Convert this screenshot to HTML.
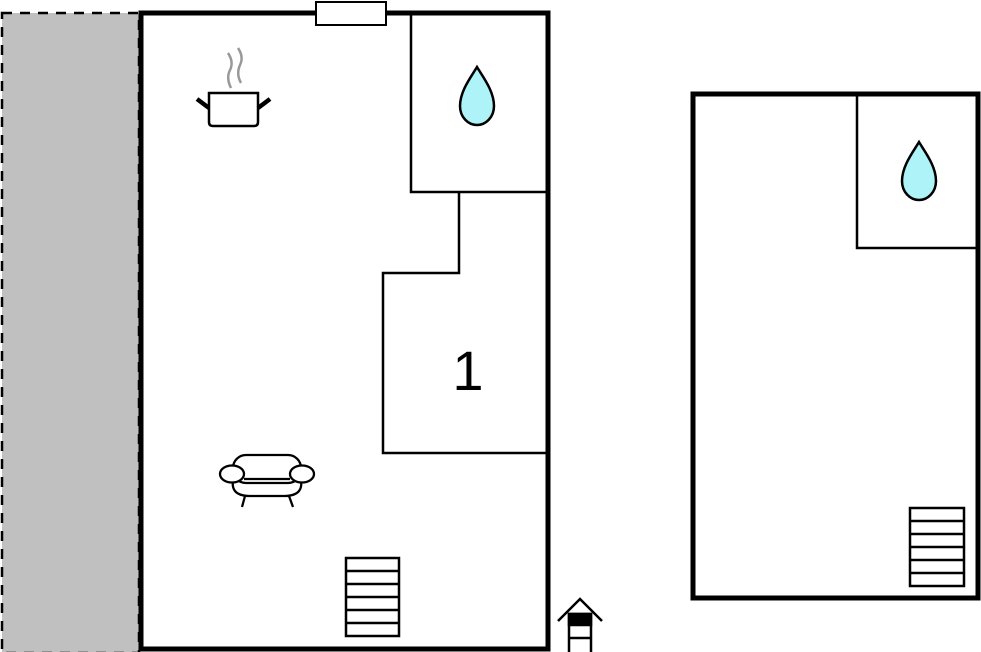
<!DOCTYPE html>
<html><head><meta charset="utf-8"><style>html,body{margin:0;padding:0;background:#fff}svg{display:block}</style></head>
<body>
<svg width="981" height="652" viewBox="0 0 981 652" xmlns="http://www.w3.org/2000/svg">
<defs>
<path id="drop" d="M0,0 C6,10 17,24 17,39 C17,50 9,58 0,58 C-9,58 -17,50 -17,39 C-17,24 -6,10 0,0 Z" fill="#aef3f8" stroke="#000" stroke-width="2.5"/>
</defs>
<rect x="2" y="13" width="137" height="640" fill="#c0c0c0" stroke="#000" stroke-width="2.5" stroke-dasharray="10,8"/>
<rect x="141" y="13" width="407" height="636" fill="#fff" stroke="#000" stroke-width="5"/>
<rect x="316" y="2" width="70" height="23" fill="#fff" stroke="#000" stroke-width="2"/>
<g fill="none" stroke="#000" stroke-width="2.5">
<polyline points="411,13 411,192 546,192"/>
<polyline points="459,192 459,273 383,273 383,453 546,453"/>
</g>
<text x="468" y="390" font-family="Liberation Sans, sans-serif" font-size="56" text-anchor="middle">1</text>
<use href="#drop" x="477" y="67"/>
<!-- pot -->
<g stroke="#000" stroke-width="2.5" fill="#fff">
<path d="M209,93 H258 V122 Q258,126 254,126 H213 Q209,126 209,122 Z"/>
<line x1="197" y1="99" x2="209" y2="108" stroke-width="4.5"/>
<line x1="258" y1="108" x2="270" y2="99" stroke-width="4.5"/>
</g>
<g stroke="#999" stroke-width="2.5" fill="none">
<path d="M228,53 Q234,62 230,70 Q226,78 231,88"/>
<path d="M238,48 Q244,57 240,65 Q236,74 241,83"/>
</g>
<!-- sofa -->
<g stroke="#000" stroke-width="2.3" fill="#fff">
<path d="M234,476 Q228,496 250,496 H284 Q306,496 300,476 Z"/>
<rect x="233" y="455" width="68" height="28" rx="13"/>
<ellipse cx="232" cy="474" rx="12" ry="8.5"/>
<ellipse cx="302" cy="474" rx="12" ry="8.5"/>
<line x1="244" y1="479" x2="290" y2="479"/>
<line x1="245" y1="496" x2="242" y2="507"/>
<line x1="289" y1="496" x2="293" y2="507"/>
</g>
<!-- stairs left -->
<g stroke="#000" stroke-width="2.5" fill="#fff">
<rect x="346" y="558" width="53" height="78"/>
<path d="M346,571 H399 M346,584 H399 M346,597 H399 M346,610 H399 M346,623 H399"/>
</g>
<!-- entrance -->
<g stroke="#000" stroke-width="2.5" fill="#fff">
<polyline points="558,621 580,599 602,621" fill="none"/>
<rect x="569" y="614" width="22" height="40"/>
<rect x="569" y="614" width="22" height="11" fill="#000"/>
<line x1="569" y1="638" x2="591" y2="638"/>
</g>
<!-- right plan -->
<rect x="693" y="94" width="285" height="504" fill="#fff" stroke="#000" stroke-width="5"/>
<polyline points="857,94 857,248 976,248" fill="none" stroke="#000" stroke-width="2.5"/>
<use href="#drop" x="919" y="142"/>
<g stroke="#000" stroke-width="2.5" fill="#fff">
<rect x="910" y="508" width="54" height="78"/>
<path d="M910,521 H964 M910,534 H964 M910,547 H964 M910,560 H964 M910,573 H964"/>
</g>
</svg>
</body></html>
